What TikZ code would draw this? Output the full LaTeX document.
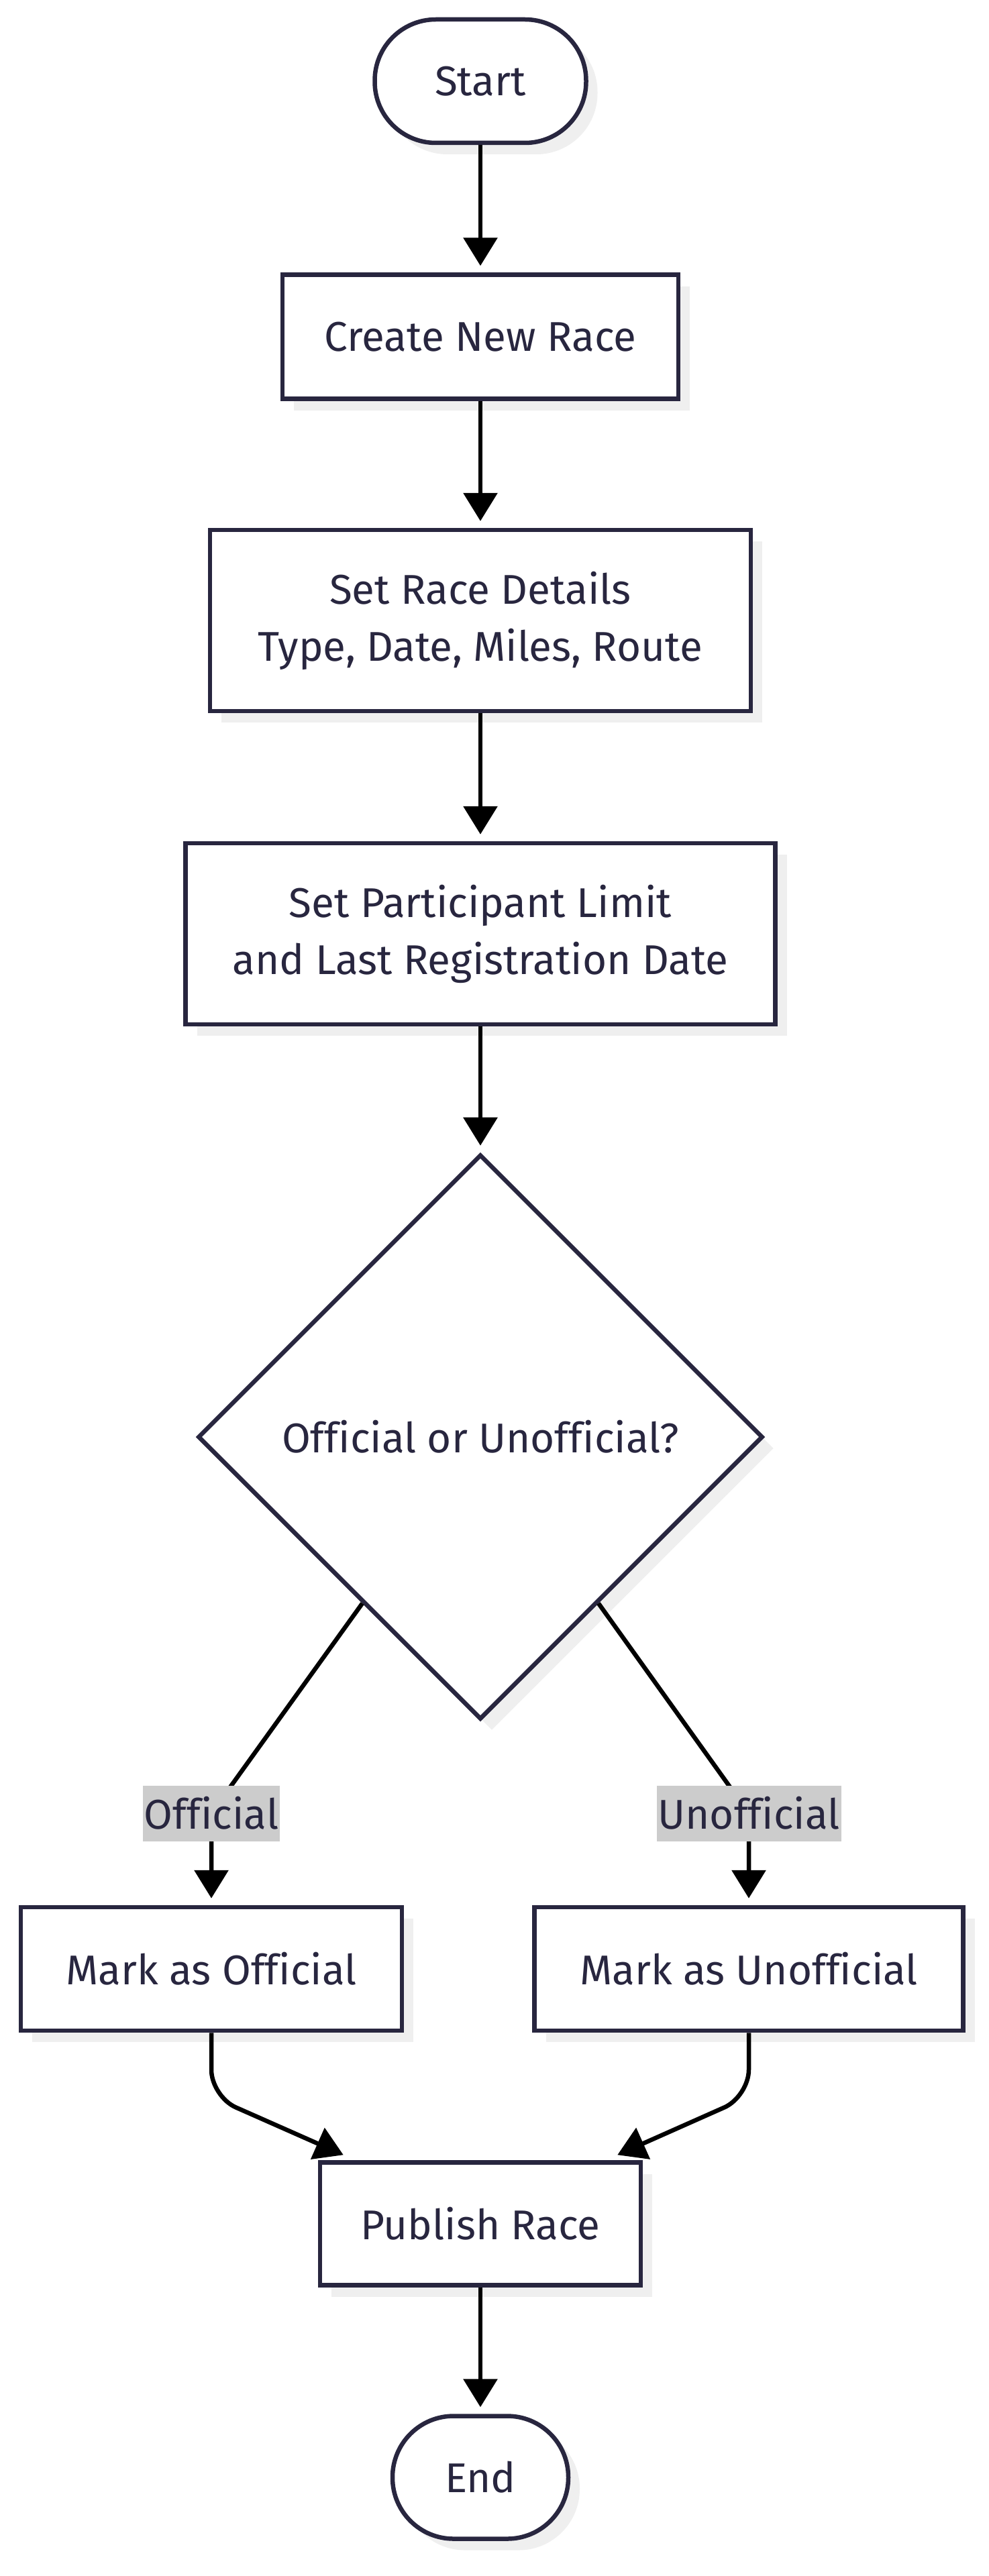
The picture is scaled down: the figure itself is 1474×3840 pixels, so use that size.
\documentclass[tikz,border=0pt]{standalone}
\usepackage{fontspec}
\setmainfont[Ligatures=NoCommon]{Fira Sans}
\usetikzlibrary{shapes.geometric,arrows.meta,shadows,calc}
\definecolor{ink}{HTML}{28263F}
\definecolor{shade}{HTML}{EFEFEF}
\definecolor{lblbg}{HTML}{CCCCCC}
\tikzset{
  base/.style={draw=ink, line width=6.5pt, fill=white, text=ink,
    font=\fontsize{62}{85}\selectfont, align=center, inner sep=0pt,
    drop shadow={shadow xshift=17pt, shadow yshift=-17pt, fill=shade, opacity=1}},
  proc/.style={base, rectangle},
  term/.style={base, rectangle, rounded corners=91pt},
  dec/.style={base, diamond, aspect=1},
  conn/.style={draw=black, line width=6.5pt, -{Triangle[length=42pt,width=50pt]}, shorten >=10pt},
  lbl/.style={fill=lblbg, text=ink, font=\fontsize{62}{85}\selectfont, inner xsep=2pt, inner ysep=0pt, minimum height=83pt}
}
\begin{document}
\begin{tikzpicture}[x=1pt,y=-1pt]
\useasboundingbox[fill=white] (0,0) rectangle (1474,3840);

\node[term, minimum width=315pt, minimum height=184pt] (start) at (716,121) {Start};
\node[proc, minimum width=590pt, minimum height=185pt] (create) at (716,502) {Create New Race};
\node[proc, minimum width=806pt, minimum height=270pt] (details) at (716,925) {Set Race Details\\Type, Date, Miles, Route};
\node[proc, minimum width=879pt, minimum height=270pt] (limit) at (716,1392) {Set Participant Limit\\and Last Registration Date};
\node[dec, minimum width=842pt, minimum height=842pt] (dec) at (716,2142) {Official or Unofficial?};
\node[proc, minimum width=568pt, minimum height=184pt] (off) at (315,2935) {Mark as Official};
\node[proc, minimum width=639pt, minimum height=184pt] (unoff) at (1116,2935) {Mark as Unofficial};
\node[proc, minimum width=478pt, minimum height=183pt] (pub) at (716,3315) {Publish Race};
\node[term, minimum width=262pt, minimum height=183pt] (end) at (716,3693) {End};

\coordinate (lO) at (315,2703);
\coordinate (lU) at (1116,2703);

\draw[conn] (start) -- (create);
\draw[conn] (create) -- (details);
\draw[conn] (details) -- (limit);
\draw[conn] (limit) -- (dec);
\draw[conn] ($(dec.south)!0.415!(dec.west)$) -- (lO) -- (off);
\draw[conn] ($(dec.south)!0.415!(dec.east)$) -- (lU) -- (unoff);
\draw[conn, rounded corners=40pt, shorten >=0pt] (off.south) -- ++(0,95) -- ($(pub.north west)+(38,-8)$);
\draw[conn, rounded corners=40pt, shorten >=0pt] (unoff.south) -- ++(0,95) -- ($(pub.north east)+(-38,-8)$);
\draw[conn] (pub) -- (end);

\node[lbl] (lblO) at (lO) {Official};
\node[lbl] (lblU) at (lU) {Unofficial};
\end{tikzpicture}
\end{document}
